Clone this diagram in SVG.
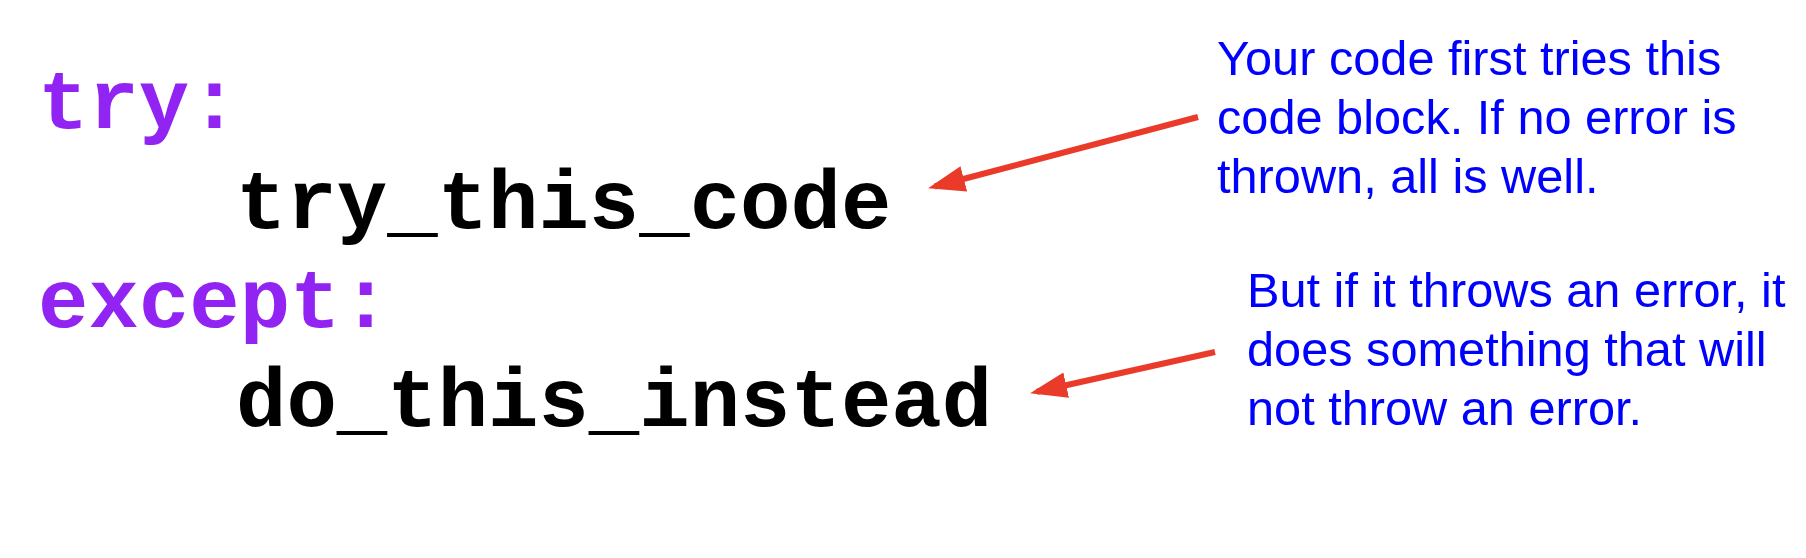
<svg xmlns="http://www.w3.org/2000/svg" width="1806" height="558" viewBox="0 0 1806 558">
<style>
.code{font-family:"Liberation Mono","Courier New",monospace;font-weight:bold;font-size:84px}
.kw{fill:#9124F2}
.id{fill:#000000}
.note{font-family:"Liberation Sans",Arial,sans-serif;font-size:48.7px;fill:#0000FF}
.arrow{stroke:#EA3A2A;stroke-width:6;fill:none;marker-end:url(#head)}
</style>
<defs>
<marker id="head" markerUnits="userSpaceOnUse" markerWidth="40" markerHeight="30" refX="30" refY="13" orient="auto">
<path d="M0,0 L37,13 L0,26 Z" fill="#EA3A2A"/>
</marker>
</defs>
<rect width="1806" height="558" fill="#ffffff"/>
<g id="code">
<g id="try-kw"><text class="code kw" x="38" y="128">try:</text></g>
<g id="try-body"><text class="code id" x="236" y="228">try_this_code</text></g>
<g id="except-kw"><text class="code kw" x="38" y="327">except:</text></g>
<g id="except-body"><text class="code id" x="236" y="426">do_this_instead</text></g>
</g>
<g id="note-try">
<text class="note" x="1217" y="75">Your code first tries this</text>
<text class="note" x="1217" y="134">code block. If no error is</text>
<text class="note" x="1217" y="193">thrown, all is well.</text>
</g>
<g id="note-except">
<text class="note" x="1247" y="307">But if it throws an error, it</text>
<text class="note" x="1247" y="366">does something that will</text>
<text class="note" x="1247" y="425">not throw an error.</text>
</g>
<g id="connectors">
<line class="arrow" x1="1198" y1="117" x2="934.8" y2="186.5"/>
<line class="arrow" x1="1215" y1="352" x2="1036.9" y2="391.7"/>
</g>
</svg>
